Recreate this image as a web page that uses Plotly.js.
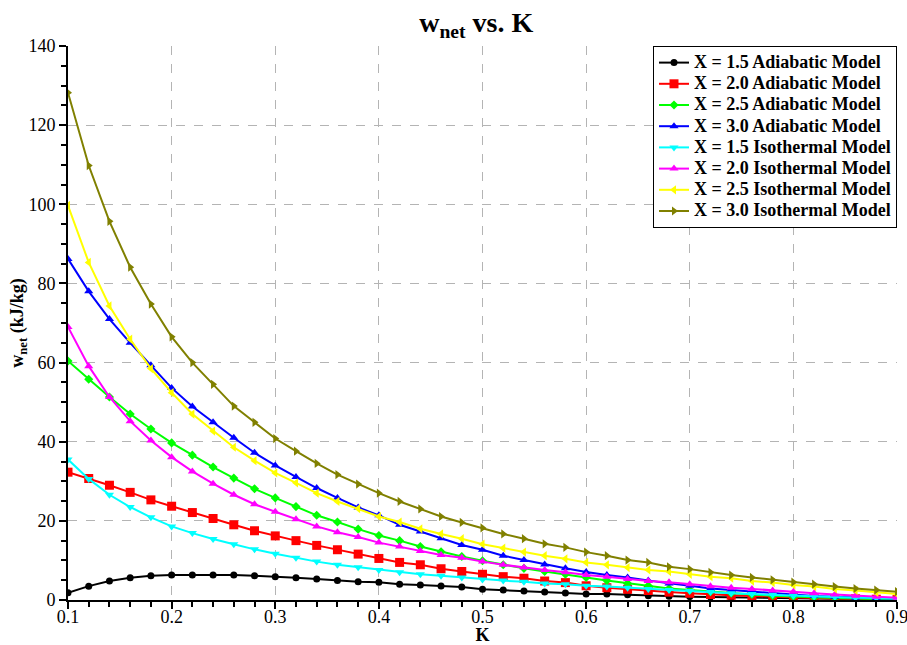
<!DOCTYPE html>
<html>
<head>
<meta charset="utf-8">
<script src="https://cdn.plot.ly/plotly-3.0.1.min.js"></script>
<style>
  html, body { margin: 0; padding: 0; background: #fff; }
  #chart { width: 907px; height: 645px; }
</style>
</head>
<body>
<div id="chart"></div>
<script>
// Compression ratio K, sampled every 0.02 from 0.10 to 0.90
const K = [0.10, 0.12, 0.14, 0.16, 0.18, 0.20, 0.22, 0.24, 0.26, 0.28,
           0.30, 0.32, 0.34, 0.36, 0.38, 0.40, 0.42, 0.44, 0.46, 0.48,
           0.50, 0.52, 0.54, 0.56, 0.58, 0.60, 0.62, 0.64, 0.66, 0.68,
           0.70, 0.72, 0.74, 0.76, 0.78, 0.80, 0.82, 0.84, 0.86, 0.88, 0.90];

// Axis tick labels
const kTicks = [0.1, 0.2, 0.3, 0.4, 0.5, 0.6, 0.7, 0.8, 0.9];
const kTickText = ['0.1', '0.2', '0.3', '0.4', '0.5', '0.6', '0.7', '0.8', '0.9'];
const wTicks = [0, 20, 40, 60, 80, 100, 120, 140];

// Net work (kJ/kg), adiabatic model
const adiabatic15 = [1.85, 3.5, 4.8, 5.65, 6.1, 6.3, 6.3, 6.3, 6.3, 6.1,
                     5.9, 5.6, 5.3, 4.9, 4.6, 4.5, 4.0, 3.8, 3.55, 3.3,
                     2.7, 2.5, 2.3, 2.0, 1.8, 1.5, 1.5, 1.3, 1.1, 0.95,
                     0.85, 0.75, 0.65, 0.55, 0.45, 0.4, 0.35, 0.3, 0.25, 0.2, 0.15];
const adiabatic20 = [32.3, 30.7, 29.0, 27.2, 25.3, 23.7, 22.1, 20.6, 19.0, 17.5,
                     16.2, 15.0, 13.8, 12.7, 11.6, 10.5, 9.5, 8.9, 7.9, 7.2,
                     6.5, 5.9, 5.5, 4.8, 4.4, 3.6, 3.1, 2.7, 2.4, 2.0,
                     1.7, 1.4, 1.2, 1.0, 0.8, 0.6, 0.5, 0.4, 0.3, 0.2, 0.1];
const adiabatic25 = [60.4, 55.8, 51.3, 47.0, 43.2, 39.7, 36.6, 33.6, 30.8, 28.1,
                     25.8, 23.6, 21.4, 19.7, 17.9, 16.3, 15.0, 13.5, 12.2, 11.0,
                     9.9, 8.9, 8.0, 7.2, 6.5, 5.7, 4.9, 4.2, 3.6, 2.9,
                     2.5, 2.1, 1.7, 1.4, 1.1, 0.85, 0.65, 0.5, 0.35, 0.2, 0.1];
const adiabatic30 = [86.2, 78.0, 71.0, 65.0, 59.3, 53.6, 48.9, 44.9, 41.0, 37.2,
                     34.0, 31.1, 28.3, 25.8, 23.4, 21.4, 19.0, 17.3, 15.6, 13.9,
                     12.7, 11.2, 10.1, 9.0, 8.0, 7.1, 6.3, 5.7, 4.9, 4.2,
                     3.6, 2.9, 2.5, 2.1, 1.7, 1.3, 1.0, 0.8, 0.6, 0.5, 0.3];

// Net work (kJ/kg), isothermal model
const isothermal15 = [35.5, 30.6, 26.6, 23.5, 20.9, 18.6, 16.9, 15.4, 14.1, 12.8,
                      11.7, 10.7, 9.7, 8.9, 8.3, 7.6, 7.0, 6.5, 6.1, 5.7,
                      5.2, 4.9, 4.6, 4.2, 4.0, 3.6, 3.4, 3.1, 2.8, 2.5,
                      2.3, 2.0, 1.7, 1.5, 1.3, 1.1, 0.9, 0.8, 0.6, 0.5, 0.3];
const isothermal20 = [69.0, 59.1, 51.3, 45.2, 40.3, 36.1, 32.5, 29.4, 26.6, 24.2,
                      22.3, 20.4, 18.6, 17.1, 15.9, 14.5, 13.5, 12.4, 11.4, 10.7,
                      9.7, 8.9, 8.2, 7.6, 7.0, 6.3, 5.9, 5.3, 4.8, 4.5,
                      4.0, 3.5, 3.1, 2.8, 2.4, 2.1, 1.7, 1.4, 1.1, 0.85, 0.6];
const isothermal25 = [99.7, 85.3, 74.3, 65.9, 58.5, 52.4, 47.0, 42.7, 38.6, 35.2,
                      32.1, 29.6, 27.0, 24.9, 23.1, 21.1, 19.7, 18.0, 16.7, 15.5,
                      14.1, 13.1, 12.1, 11.2, 10.4, 9.5, 8.9, 8.2, 7.6, 7.2,
                      6.5, 5.9, 5.5, 4.8, 4.4, 3.8, 3.4, 2.8, 2.4, 1.9, 1.5];
const isothermal30 = [128.2, 109.8, 95.7, 84.1, 74.8, 66.5, 60.0, 54.5, 49.0, 44.9,
                      40.8, 37.6, 34.5, 31.7, 29.3, 27.0, 24.9, 23.0, 21.1, 19.6,
                      18.2, 16.7, 15.5, 14.2, 13.3, 12.1, 11.2, 10.1, 9.5, 8.4,
                      7.8, 7.0, 6.3, 5.7, 5.1, 4.5, 4.0, 3.4, 2.9, 2.5, 2.1];

const seriesNames = [
  'X = 1.5 Adiabatic Model', 'X = 2.0 Adiabatic Model',
  'X = 2.5 Adiabatic Model', 'X = 3.0 Adiabatic Model',
  'X = 1.5 Isothermal Model', 'X = 2.0 Isothermal Model',
  'X = 2.5 Isothermal Model', 'X = 3.0 Isothermal Model'
];
const seriesValues = [adiabatic15, adiabatic20, adiabatic25, adiabatic30,
                      isothermal15, isothermal20, isothermal25, isothermal30];
const seriesColors = ['#000000', '#ff0000', '#00ff00', '#0000ff',
                      '#00ffff', '#ff00ff', '#ffff00', '#808000'];
const seriesSymbols = ['circle', 'square', 'diamond', 'triangle-up',
                       'triangle-down', 'triangle-up', 'triangle-left', 'triangle-right'];
const seriesSizes = [7, 9, 7, 8, 8, 8, 8, 8];

// Legend entries are set larger than the legend's base size so rows stay compact
const traces = seriesNames.map((name, i) => ({
  x: K,
  y: seriesValues[i],
  name: '<span style="font-size:18px">' + name + '</span>',
  type: 'scatter',
  mode: 'lines+markers',
  line: { color: seriesColors[i], width: 2 },
  marker: { color: seriesColors[i], symbol: seriesSymbols[i], size: seriesSizes[i] }
}));

const serif = 'Liberation Serif, Times New Roman, serif';

const layout = {
  width: 907,
  height: 645,
  paper_bgcolor: '#ffffff',
  plot_bgcolor: '#ffffff',
  margin: { l: 68, r: 10, t: 46, b: 45 },
  font: { family: serif, color: '#000000', size: 18 },
  title: {
    text: '<b>w<sub>net</sub> vs. K</b>',
    font: { family: serif, size: 28, color: '#000000' },
    x: 0.525, xanchor: 'center',
    y: 0.966, yanchor: 'middle'
  },
  xaxis: {
    range: [0.1, 0.9],
    tickvals: kTicks,
    ticktext: kTickText,
    ticklabeloverflow: 'allow',
    ticklabelstandoff: -8,
    showline: true, linecolor: '#000000', linewidth: 2,
    ticks: 'outside', ticklen: 7, tickwidth: 2, tickcolor: '#000000',
    minor: { dtick: 0.02, tick0: 0.1, ticks: 'outside', ticklen: 5, tickwidth: 2, tickcolor: '#000000', showgrid: false },
    showgrid: true, gridcolor: '#b4b4b4', griddash: 'dash', gridwidth: 1,
    zeroline: false,
    tickfont: { family: serif, size: 18, color: '#000000' },
    title: { text: '<b>K</b>', font: { family: serif, size: 18, color: '#000000' }, standoff: 9 }
  },
  yaxis: {
    range: [0, 140],
    tickvals: wTicks,
    showline: true, linecolor: '#000000', linewidth: 2,
    ticks: 'outside', ticklen: 7, tickwidth: 2, tickcolor: '#000000',
    minor: { dtick: 5, ticks: 'outside', ticklen: 5, tickwidth: 2, tickcolor: '#000000', showgrid: false },
    showgrid: true, gridcolor: '#b4b4b4', griddash: 'dash', gridwidth: 1,
    zeroline: false,
    tickfont: { family: serif, size: 18, color: '#000000' },
    title: { text: '<b>w<sub>net</sub> (kJ/kg)</b>', font: { family: serif, size: 18, color: '#000000' }, standoff: 0 }
  },
  legend: {
    x: 1, xanchor: 'right',
    y: 1, yanchor: 'top',
    bgcolor: '#ffffff',
    bordercolor: '#000000', borderwidth: 1,
    font: { family: serif, size: 14, color: '#000000', weight: 'bold' },
    tracegroupgap: 0,
    itemwidth: 30
  },
  showlegend: true
};

Plotly.newPlot('chart', traces, layout, { displayModeBar: false, staticPlot: true });
</script>
</body>
</html>
